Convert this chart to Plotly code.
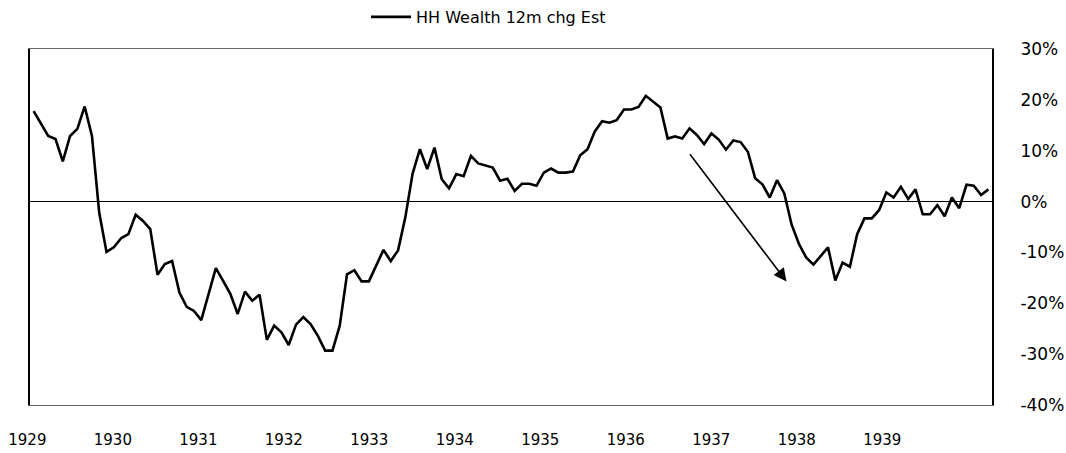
import plotly.graph_objects as go

# Monthly household wealth 12-month change estimate, Jan 1929 - Dec 1939 (percent)
wealth_chg = [
    17.8, 15.4, 12.9, 12.3, 7.9, 12.9, 14.3, 18.7, 12.9, -2.2, -9.9, -9.0,
    -7.2, -6.4, -2.6, -3.8, -5.4, -14.4, -12.3, -11.7, -17.9, -20.7, -21.5, -23.3,
    -18.2, -13.1, -15.6, -18.2, -22.1, -17.7, -19.5, -18.3, -27.2, -24.4, -25.7, -28.2,
    -24.2, -22.7, -24.1, -26.4, -29.3, -29.3, -24.4, -14.3, -13.5, -15.7, -15.7, -12.6,
    -9.5, -11.7, -9.6, -3.1, 5.5, 10.3, 6.4, 10.6, 4.4, 2.6, 5.4, 5.0,
    9.0, 7.5, 7.1, 6.7, 4.1, 4.5, 2.1, 3.5, 3.5, 3.1, 5.7, 6.5,
    5.7, 5.7, 5.9, 9.1, 10.3, 13.8, 15.8, 15.5, 16.0, 18.1, 18.1, 18.6,
    20.8, 19.6, 18.5, 12.4, 12.8, 12.4, 14.4, 13.1, 11.3, 13.4, 12.2, 10.2,
    12.0, 11.7, 9.8, 4.6, 3.4, 0.8, 4.2, 1.6, -4.5, -8.3, -11.0, -12.4,
    -10.7, -9.0, -15.5, -12.0, -12.8, -6.4, -3.3, -3.3, -1.7, 1.8, 0.8, 2.9,
    0.5, 2.4, -2.5, -2.5, -0.7, -2.9, 0.8, -1.3, 3.3, 3.1, 1.3, 2.4,
]
years = [str(y) for y in range(1929, 1940)]
y_ticks = [0.3, 0.2, 0.1, 0.0, -0.1, -0.2, -0.3, -0.4]
y_ticktext = ["30%", "20%", "10%", "0%", "-10%", "-20%", "-30%", "-40%"]
series_name = "HH Wealth 12m chg Est"

month_idx = list(range(len(wealth_chg)))
values = [v / 100 for v in wealth_chg]

fig = go.Figure()
fig.add_trace(go.Scatter(
    x=month_idx, y=values, mode="lines", name=series_name,
    line=dict(color="black", width=2.6),
))

# arrow annotation (decline marker)
fig.add_annotation(
    x=103.3, y=-0.157, ax=89.9, ay=0.096,
    xref="x", yref="y", axref="x", ayref="y",
    showarrow=True, arrowhead=2, arrowsize=1.6, arrowwidth=1.6,
    arrowcolor="black", text="",
)

font_main = "DejaVu Sans"
fig.update_layout(
    width=1066, height=453,
    margin=dict(l=30, r=74, t=49, b=48, autoexpand=False),
    paper_bgcolor="white", plot_bgcolor="white",
    showlegend=True,
    legend=dict(
        orientation="h", xref="container", yref="container",
        x=366 / 1066, xanchor="left", y=1.0, yanchor="top",
        font=dict(family=font_main, size=16, color="black"),
        bgcolor="rgba(0,0,0,0)", itemwidth=40,
    ),
    xaxis=dict(
        range=[-0.5, len(wealth_chg) - 0.5],
        tickvals=[0.1 + 11.73 * k for k in range(len(years))],
        ticktext=years,
        ticklabelshift=-7,
        ticklabelstandoff=21,
        ticks="",
        automargin=False,
        showgrid=False, zeroline=False,
        showline=True, mirror=True, linecolor="#666", linewidth=1,
        tickfont=dict(family=font_main, size=15, color="black"),
    ),
    yaxis=dict(
        side="right",
        range=[-0.4, 0.3],
        tickvals=y_ticks,
        ticktext=y_ticktext,
        ticks="",
        ticklabelstandoff=23,
        automargin=False,
        showgrid=False,
        zeroline=True, zerolinecolor="black", zerolinewidth=1,
        showline=True, mirror=True, linecolor="black", linewidth=2,
        tickfont=dict(family=font_main, size=17, color="black"),
    ),
)

fig.write_html(
    "out.html",
    config={"displayModeBar": False},
    post_script="document.body.style.margin='0';document.body.style.overflow='hidden';",
)
